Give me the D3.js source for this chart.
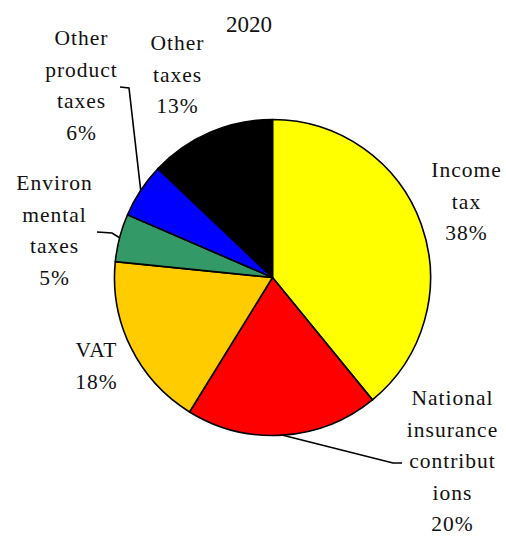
<!DOCTYPE html>
<html lang="en">
<head>
<meta charset="UTF-8">
<title>2020 tax receipts</title>
<script src="https://d3js.org/d3.v7.min.js"></script>
<style>
  body { margin: 0; background: #fff; }
</style>
</head>
<body>
<div id="chart"></div>
<script>

// data (share of receipts, %)
const categories = ['Income tax', 'National insurance contributions', 'VAT',
                    'Environmental taxes', 'Other product taxes', 'Other taxes'];
const values = [39.1, 19.7, 17.8, 4.9, 5.6, 12.9];
const pctLabels = ['38%', '20%', '18%', '5%', '6%', '13%'];
// label text as wrapped in the original
const labelLines = [
    ['Income', 'tax'],
    ['National', 'insurance', 'contribut', 'ions'],
    ['VAT'],
    ['Environ', 'mental', 'taxes'],
    ['Other', 'product', 'taxes'],
    ['Other', 'taxes']
];
const colors = ['#FFFF00', '#FF0000', '#FFCC00', '#339966', '#0000FF', '#000000'];

const width = 506, height = 538;
const cx = 272.5, cy = 277.5, radius = 158;
const lineH = 31.5;
const serif = '"Liberation Serif", "Times New Roman", serif';

// label anchor (centre x, first baseline) and optional leader elbow
const labelPos = [
    {x: 466, y: 177},
    {x: 452, y: 405, elbow: [[393, 463], [402, 463]]},
    {x: 96, y: 357},
    {x: 54, y: 190, elbow: [[112, 233], [97, 232]]},
    {x: 81, y: 45, elbow: [[129, 88], [120, 87]]},
    {x: 177, y: 50}
];

const svg = d3.select('#chart').append('svg')
    .attr('width', width)
    .attr('height', height)
    .attr('font-family', serif);

svg.append('text')
    .attr('x', 249)
    .attr('y', 32)
    .attr('text-anchor', 'middle')
    .attr('font-size', 23)
    .attr('fill', '#111')
    .text('2020');

const pie = d3.pie().sort(null).value(d => d)(values);
const arc = d3.arc().innerRadius(0).outerRadius(radius);

const g = svg.append('g').attr('transform', `translate(${cx},${cy})`);

g.selectAll('path')
    .data(pie)
    .join('path')
    .attr('d', arc)
    .attr('fill', (d, i) => colors[i])
    .attr('stroke', '#000')
    .attr('stroke-width', 1.6)
    .attr('stroke-linejoin', 'round');

// leader lines from slice mid-angle on the rim
pie.forEach((d, i) => {
    const p = labelPos[i];
    if (!p.elbow) return;
    const a = (d.startAngle + d.endAngle) / 2;
    const start = [cx + radius * Math.sin(a), cy - radius * Math.cos(a)];
    svg.append('polyline')
        .attr('points', [start, ...p.elbow].map(q => q.join(',')).join(' '))
        .attr('fill', 'none')
        .attr('stroke', '#000')
        .attr('stroke-width', 1.6);
});

// labels, one text per line
labelPos.forEach((p, i) => {
    const lines = labelLines[i].concat([pctLabels[i]]);
    lines.forEach((s, k) => {
        svg.append('text')
            .attr('x', p.x + 0.5)
            .attr('y', p.y + k * lineH)
            .attr('text-anchor', 'middle')
            .attr('font-size', 21.5)
            .attr('fill', '#111')
            .style('letter-spacing', '1px')
            .text(s);
    });
});

</script>
</body>
</html>
